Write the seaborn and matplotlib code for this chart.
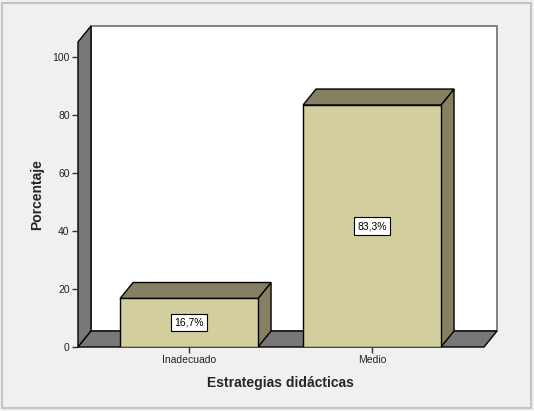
import matplotlib
matplotlib.use("Agg")
import matplotlib.pyplot as plt
from matplotlib.patches import Polygon, Rectangle
import seaborn as sns

# data
categories = ["Inadecuado", "Medio"]
percentages = [16.7, 83.3]
y_ticks = [0, 20, 40, 60, 80, 100]

FRONT = "#d3ce9e"
SHADE = "#858062"
WALL = "#787878"
BG = "#f0f0f0"

sns.set_theme(style="white")
plt.rcParams["font.family"] = ["Liberation Sans", "DejaVu Sans"]

W, H = 534, 411
fig = plt.figure(figsize=(W / 100, H / 100), dpi=100, facecolor=BG)
# front plane of the 3d box, in pixels
left, right, top, bottom = 78, 484, 42, 347
ax = fig.add_axes([left / W, 1 - bottom / H, (right - left) / W, (bottom - top) / H])
ax.patch.set_visible(False)

sns.barplot(x=categories, y=percentages, color=FRONT, saturation=1, width=0.754,
            edgecolor="black", linewidth=1, ax=ax, zorder=1)

x0, x1 = -0.607, 1.612
y0, y1 = 0, 105
ax.set_xlim(x0, x1)
ax.set_ylim(y0, y1)

# depth offset (pixels -> data units)
DX = 13 * (x1 - x0) / (right - left)
DY = 16 * (y1 - y0) / (bottom - top)

bars = list(ax.patches)

# back wall, left wall, floor
ax.add_patch(Polygon([(x0 + DX, y0 + DY), (x1 + DX, y0 + DY), (x1 + DX, y1 + DY), (x0 + DX, y1 + DY)],
                     closed=True, facecolor="white", edgecolor="#6e6e6e", lw=1.2, clip_on=False, zorder=0.1))
ax.add_patch(Polygon([(x0, y0), (x0, y1), (x0 + DX, y1 + DY), (x0 + DX, y0 + DY)],
                     closed=True, facecolor=WALL, edgecolor="black", lw=1, clip_on=False, zorder=0.2))
ax.add_patch(Polygon([(x0, y0), (x1, y0), (x1 + DX, y0 + DY), (x0 + DX, y0 + DY)],
                     closed=True, facecolor=WALL, edgecolor="black", lw=1, clip_on=False, zorder=0.2))

for bar, val in zip(bars, percentages):
    bx, bw, bh = bar.get_x(), bar.get_width(), bar.get_height()
    top_face = [(bx, bh), (bx + bw, bh), (bx + bw + DX, bh + DY), (bx + DX, bh + DY)]
    side_face = [(bx + bw, 0), (bx + bw, bh), (bx + bw + DX, bh + DY), (bx + bw + DX, DY)]
    for pts in (side_face, top_face):
        ax.add_patch(Polygon(pts, closed=True, facecolor=SHADE, edgecolor="black",
                             lw=1, clip_on=False, zorder=0.9))
    ax.text(bx + bw / 2, val / 2, f"{val:.1f}%".replace(".", ","), ha="center", va="center",
            fontsize=7.5, color="black", zorder=3,
            bbox=dict(boxstyle="square,pad=0.35", facecolor="white", edgecolor="black", lw=0.8))

for s in ax.spines.values():
    s.set_visible(False)

ax.set_yticks(y_ticks)
ax.set_yticklabels([str(t) for t in y_ticks])
ax.tick_params(axis="both", length=4.5, width=1, color="#333333", labelsize=7.5,
               labelcolor="#222222", pad=1.5, left=True, bottom=True)

ax.set_xlabel("Estrategias didácticas", fontsize=10, fontweight="bold", va="center")
ax.xaxis.set_label_coords(0.4975, -0.118)
ax.set_ylabel("Porcentaje", fontsize=10, fontweight="bold", va="center")
ax.yaxis.set_label_coords(-0.101, 0.5)

# outer frame
fig.patches.append(Rectangle((2 / W, 3 / H), 529 / W, 405 / H, transform=fig.transFigure,
                             facecolor="none", edgecolor="#c4c4c4", lw=1.5))

fig.savefig("out.png", dpi=100, facecolor=BG)
